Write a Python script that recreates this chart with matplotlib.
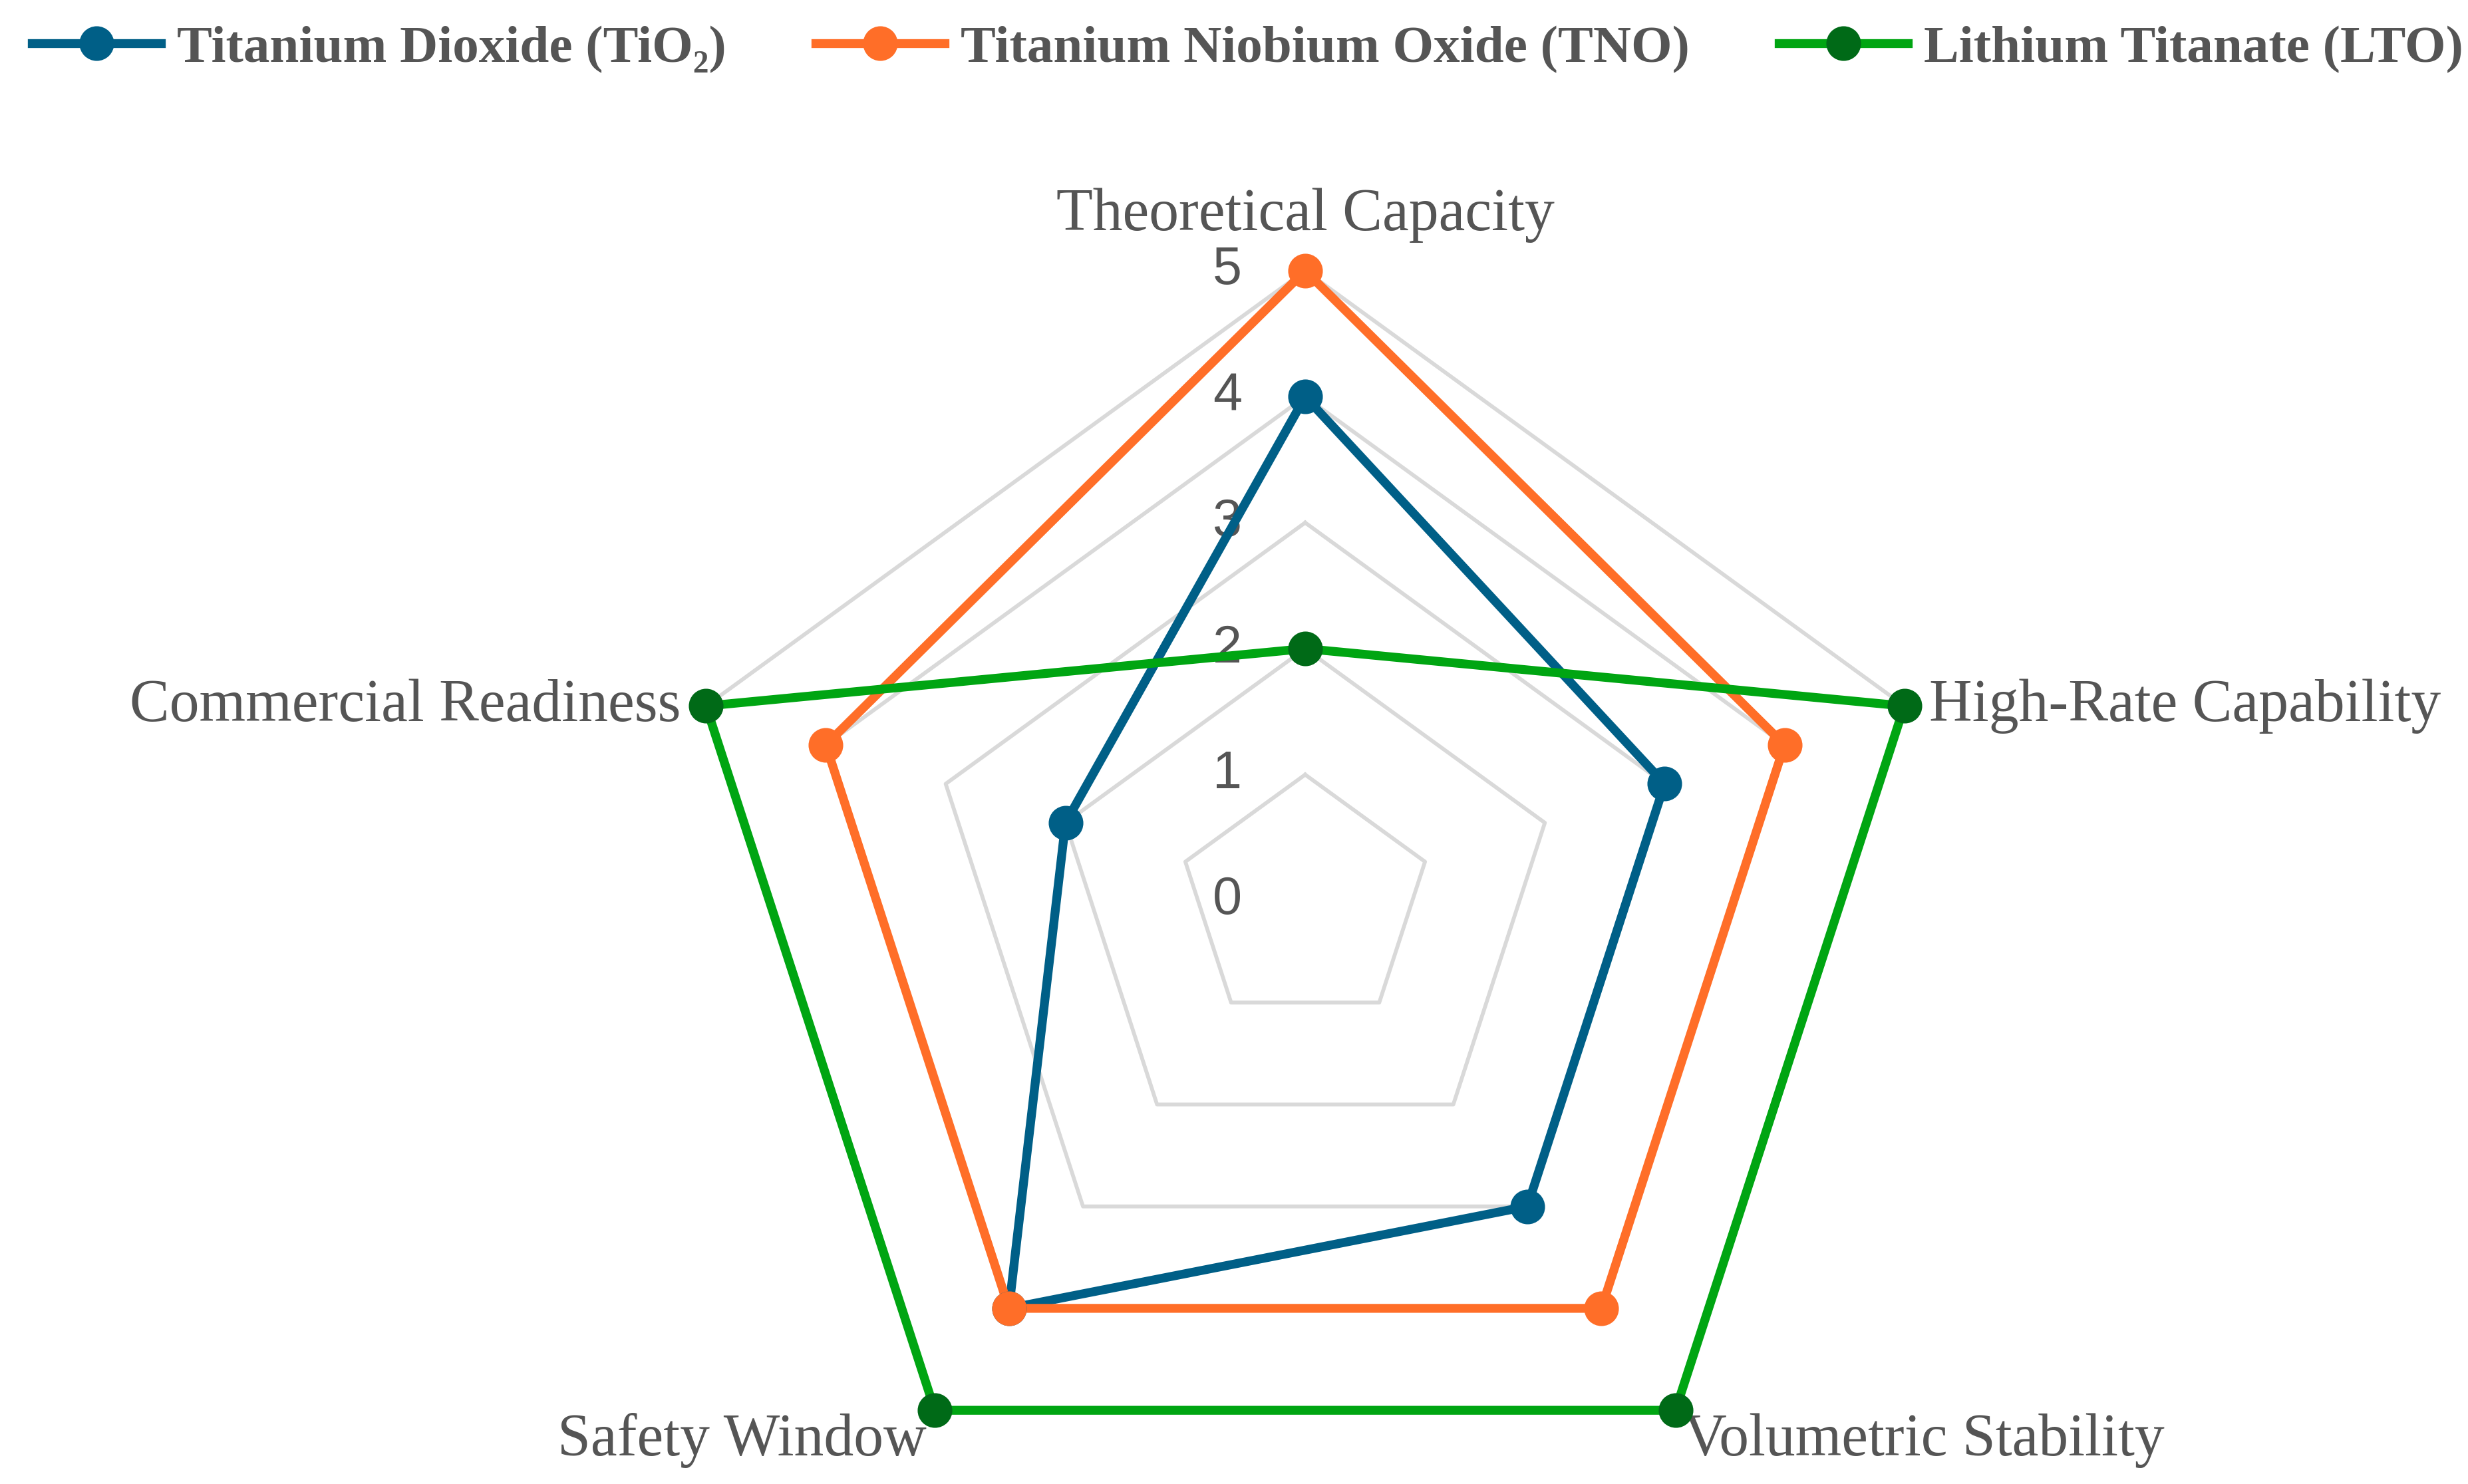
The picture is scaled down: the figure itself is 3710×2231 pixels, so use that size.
import numpy as np
import matplotlib
matplotlib.use('Agg')
import matplotlib.pyplot as plt
from matplotlib.lines import Line2D

# 数据
categories = ['Theoretical Capacity', 'High-Rate Capability', 'Volumetric Stability',
              'Safety Window', 'Commercial Readiness']
series_names = ['Titanium Dioxide (TiO\u2082)', 'Titanium Niobium Oxide (TNO)', 'Lithium Titanate (LTO)']
tio2 = [4, 3, 3, 4, 2]
tno = [5, 4, 4, 4, 4]
lto = [2, 5, 5, 5, 5]
r_ticks = [0, 1, 2, 3, 4, 5]

# 样式
line_colors = ['#005f87', '#ff6e28', '#00a512']
marker_colors = ['#005f87', '#ff6e28', '#006a17']
grid_color = '#d9d9d9'
text_color = '#555555'

fig = plt.figure(figsize=(3711 / 300, 2231 / 300), dpi=300)
ax = fig.add_axes([0.2735, -0.0314, 0.5104, 0.849], projection='polar')
ax.set_theta_offset(np.pi / 2)
ax.set_theta_direction(-1)
ax.set_ylim(0, 5)
ax.grid(False)
ax.set_xticks([])
ax.set_yticks([])
ax.spines['polar'].set_visible(False)
ax.patch.set_alpha(0)

n = len(categories)
theta = np.linspace(0, 2 * np.pi, n, endpoint=False)
theta_c = np.append(theta, theta[0])

# 五边形网格
for v in r_ticks[1:]:
    ax.plot(theta_c, [v] * (n + 1), color=grid_color, lw=1.4, zorder=1, clip_on=False)

# 径向刻度标签
for v in r_ticks:
    ax.annotate(str(v), xy=(0, v), xytext=(-28, 0), textcoords='offset points',
                ha='center', va='center', fontsize=19, color=text_color,
                family=['Liberation Sans', 'DejaVu Sans'], zorder=2)

# 数据线
handles = []
for vals, lc, mc, name in zip([tio2, tno, lto], line_colors, marker_colors, series_names):
    vals_c = np.append(vals, vals[0])
    ax.plot(theta_c, vals_c, color=lc, lw=3.2, zorder=3, clip_on=False)
    ax.plot(theta, vals, 'o', color=mc, ms=11.5, zorder=4, clip_on=False)
    handles.append(Line2D([0], [0], color=lc, lw=3.2, marker='o', ms=11.5,
                          markerfacecolor=mc, markeredgecolor=mc, label=name))

# 类别标签
label_pos = [((0, 10), 'center', 'bottom'),
             ((9, 0), 'left', 'center'),
             ((3, -1), 'left', 'top'),
             ((-3, -1), 'right', 'top'),
             ((-9, 0), 'right', 'center')]
for t, cat, (off, ha, va) in zip(theta, categories, label_pos):
    ax.annotate(cat, xy=(t, 5), xytext=off, textcoords='offset points',
                ha=ha, va=va, fontsize=21.5, color=text_color,
                family=['Liberation Serif', 'DejaVu Serif'])

leg = fig.legend(handles=handles, loc='center left', bbox_to_anchor=(0.013, 0.967),
                 ncol=3, frameon=False, borderpad=0, borderaxespad=0,
                 handlelength=2.45, handletextpad=0.3, columnspacing=1.7,
                 prop={'family': ['Liberation Serif', 'DejaVu Serif'], 'weight': 'bold', 'size': 19})
for t in leg.get_texts():
    t.set_color(text_color)

fig.savefig('out.png', dpi=300, facecolor='white')
